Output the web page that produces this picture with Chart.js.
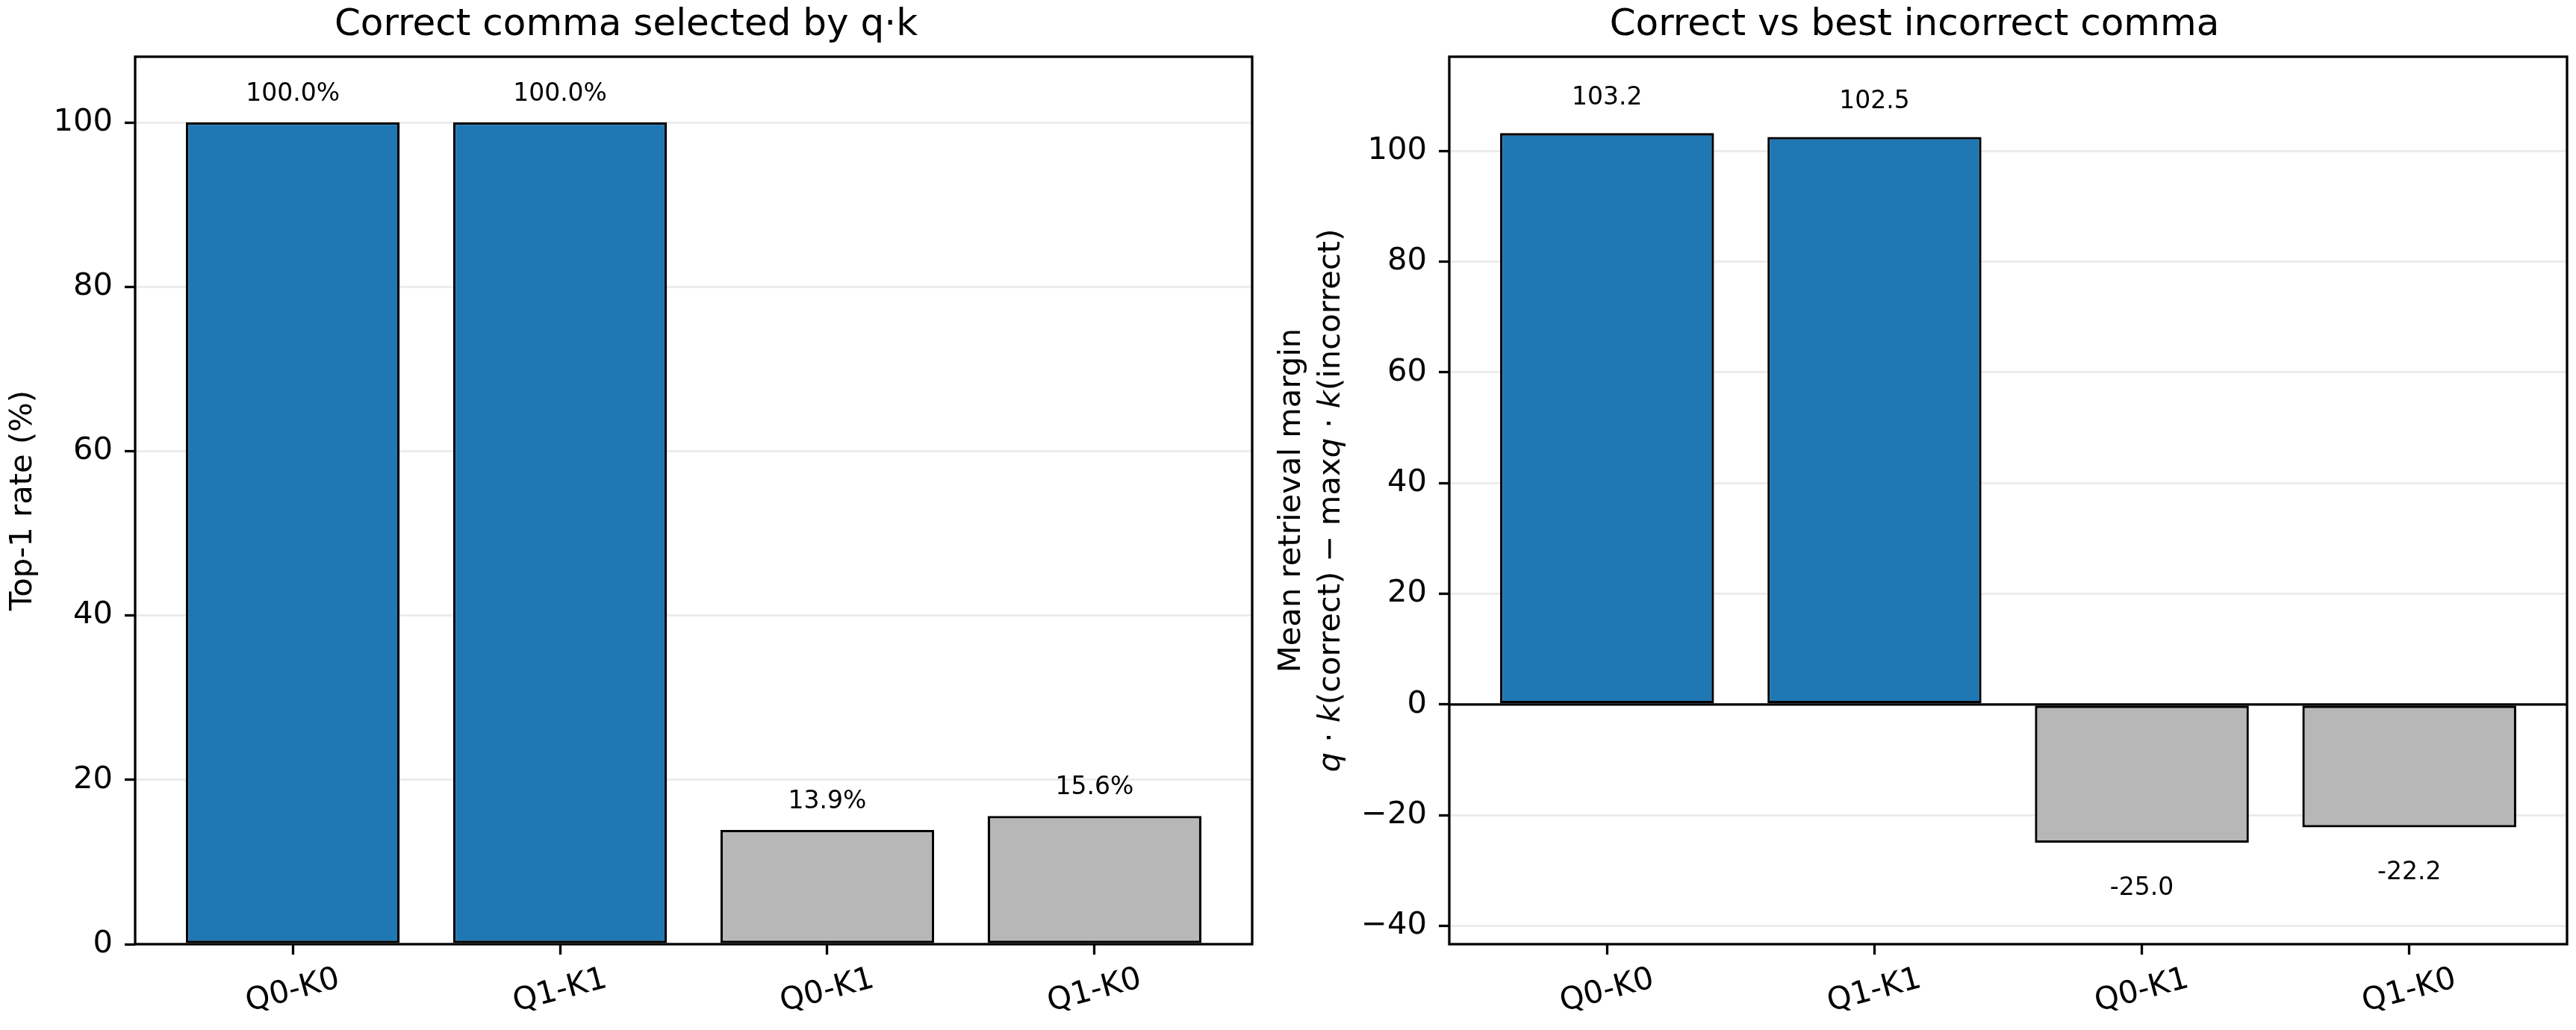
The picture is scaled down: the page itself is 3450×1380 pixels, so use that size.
<!DOCTYPE html>
<html>
<head>
<meta charset="utf-8">
<title>Comma retrieval</title>
<script src="https://cdn.jsdelivr.net/npm/chart.js@4.4.1/dist/chart.umd.min.js"></script>
<style>
  html, body { margin: 0; padding: 0; background: #fff; overflow: hidden; width: 3450px; height: 1380px; }
  canvas { position: absolute; top: 0; }
  #rateChart { left: 0; }
  #marginChart { left: 1690px; }
</style>
</head>
<body>
<canvas id="rateChart" width="1858" height="1380"></canvas>
<canvas id="marginChart" width="1999" height="1380"></canvas>
<script>
const categories = ['Q0-K0', 'Q1-K1', 'Q0-K1', 'Q1-K0'];
const top1Rate = [100.0, 100.0, 13.9, 15.6];
const retrievalMargin = [103.2, 102.5, -25.0, -22.2];
const rateTicks = [0, 20, 40, 60, 80, 100];
const marginTicks = [-40, -20, 0, 20, 40, 60, 80, 100];

const FONT = "'DejaVu Sans', sans-serif";
const TICK_PX = 41.7;
const BLUE = '#1f77b4';
const GREY = '#b7b7b7';
const LINE = 3.3;

Chart.defaults.font.family = FONT;
Chart.defaults.color = '#000';

// frame, zero line, bar values, rotated x labels, mixed-style y title
const decor = {
  id: 'decor',
  afterDatasetsDraw(chart, args, opts) {
    const ctx = chart.ctx;
    const area = chart.chartArea;
    ctx.save();

    if (opts.zeroLine) {
      const y0 = chart.scales.y.getPixelForValue(0);
      ctx.strokeStyle = '#000';
      ctx.lineWidth = LINE;
      ctx.beginPath();
      ctx.moveTo(area.left, y0);
      ctx.lineTo(area.right, y0);
      ctx.stroke();
    }

    ctx.strokeStyle = '#000';
    ctx.lineWidth = LINE;
    ctx.strokeRect(area.left, area.top, area.right - area.left, area.bottom - area.top);

    // value labels
    ctx.fillStyle = '#000';
    ctx.font = `33px ${FONT}`;
    ctx.textAlign = 'center';
    ctx.textBaseline = 'middle';
    const meta = chart.getDatasetMeta(0);
    meta.data.forEach((bar, i) => {
      const v = chart.data.datasets[0].data[i].y;
      const y = v >= 0 ? bar.y - opts.above : bar.y + opts.below;
      ctx.fillText(opts.fmt(v), bar.x, y);
    });

    // x tick labels, rotated 15 degrees round their centre
    const xs = chart.scales.x;
    ctx.font = `${TICK_PX}px ${FONT}`;
    xs.ticks.forEach(t => {
      const px = xs.getPixelForValue(t.value);
      ctx.save();
      ctx.translate(px, area.bottom + 63);
      ctx.rotate(-15 * Math.PI / 180);
      ctx.fillText(categories[t.value], 0, 0);
      ctx.restore();
    });

    // y title made of styled pieces
    if (opts.yTitle) {
      const cy = (area.top + area.bottom) / 2;
      opts.yTitle.forEach(line => {
        const parts = line.parts.map(p => {
          ctx.font = `${p.i ? 'italic ' : ''}${TICK_PX}px ${FONT}`;
          return { t: p.t, i: p.i, w: ctx.measureText(p.t).width };
        });
        const total = parts.reduce((s, p) => s + p.w, 0);
        ctx.save();
        ctx.translate(line.x, cy);
        ctx.rotate(-Math.PI / 2);
        ctx.textAlign = 'left';
        let x = -total / 2;
        parts.forEach(p => {
          ctx.font = `${p.i ? 'italic ' : ''}${TICK_PX}px ${FONT}`;
          ctx.fillText(p.t, x, 0);
          x += p.w;
        });
        ctx.restore();
      });
    }
    ctx.restore();
  }
};

function barData(values) {
  return values.map((v, i) => ({ x: i, y: v }));
}

function makeOptions(cfg) {
  return {
    responsive: false,
    animation: false,
    devicePixelRatio: 1,
    layout: { padding: { left: 0, right: cfg.padRight, top: 0, bottom: 0 } },
    plugins: {
      legend: { display: false },
      tooltip: { enabled: false },
      title: {
        display: true,
        text: cfg.title,
        font: { size: 50, weight: 'normal' },
        color: '#000',
        padding: { top: 4, bottom: 12 }
      },
      decor: cfg.decor
    },
    scales: {
      x: {
        type: 'linear',
        offset: false,
        min: -0.59,
        max: 3.59,
        afterBuildTicks: axis => { axis.ticks = categories.map((c, i) => ({ value: i })); },
        afterFit: axis => { axis.height = 115; },
        ticks: { display: false },
        grid: { offset: false, drawOnChartArea: false, drawTicks: true, tickLength: 14, tickColor: '#000', tickWidth: LINE },
        border: { display: false }
      },
      y: {
        min: cfg.yMin,
        max: cfg.yMax,
        afterBuildTicks: axis => { axis.ticks = cfg.yTicks.map(v => ({ value: v })); },
        afterFit: axis => { axis.width = cfg.yWidth; },
        ticks: {
          font: { size: TICK_PX },
          padding: 16,
          callback: v => String(v).replace('-', '\u2212')
        },
        grid: { color: 'rgba(0,0,0,0.075)', lineWidth: 3, tickLength: 14, tickColor: '#000', tickWidth: LINE },
        border: { display: false },
        title: cfg.yTitle
      }
    }
  };
}

const ctxRate = document.getElementById('rateChart').getContext('2d');
new Chart(ctxRate, {
  type: 'bar',
  data: {
    datasets: [{
      data: barData(top1Rate),
      backgroundColor: [BLUE, BLUE, GREY, GREY],
      borderColor: '#000',
      borderWidth: LINE,
      borderSkipped: false,
      barPercentage: 0.8,
      categoryPercentage: 1.0
    }]
  },
  options: makeOptions({
    title: 'Correct comma selected by q\u00b7k',
    padRight: 181,
    yMin: 0,
    yMax: 108,
    yTicks: rateTicks,
    yWidth: 181,
    yTitle: { display: true, text: 'Top-1 rate (%)', font: { size: TICK_PX, lineHeight: 1.2 }, padding: { top: 6, bottom: 0 } },
    decor: { above: 38, below: 40, fmt: v => v.toFixed(1) + '%', zeroLine: false }
  }),
  plugins: [decor]
});

const ctxMargin = document.getElementById('marginChart').getContext('2d');
new Chart(ctxMargin, {
  type: 'bar',
  data: {
    datasets: [{
      data: barData(retrievalMargin),
      backgroundColor: [BLUE, BLUE, GREY, GREY],
      borderColor: '#000',
      borderWidth: LINE,
      borderSkipped: false,
      barPercentage: 0.8,
      categoryPercentage: 1.0
    }]
  },
  options: makeOptions({
    title: 'Correct vs best incorrect comma',
    padRight: 251,
    yMin: -43.3,
    yMax: 117.0,
    yTicks: marginTicks,
    yWidth: 251,
    yTitle: { display: false },
    decor: {
      above: 47,
      below: 61,
      fmt: v => v.toFixed(1),
      zeroLine: true,
      yTitle: [
        { x: 40, parts: [{ t: 'Mean retrieval margin', i: false }] },
        { x: 93, parts: [
          { t: 'q', i: true }, { t: ' \u00b7 ', i: false }, { t: 'k', i: true },
          { t: '(correct) \u2212 max', i: false },
          { t: 'q', i: true }, { t: ' \u00b7 ', i: false }, { t: 'k', i: true },
          { t: '(incorrect)', i: false }
        ] }
      ]
    }
  }),
  plugins: [decor]
});
</script>
</body>
</html>
